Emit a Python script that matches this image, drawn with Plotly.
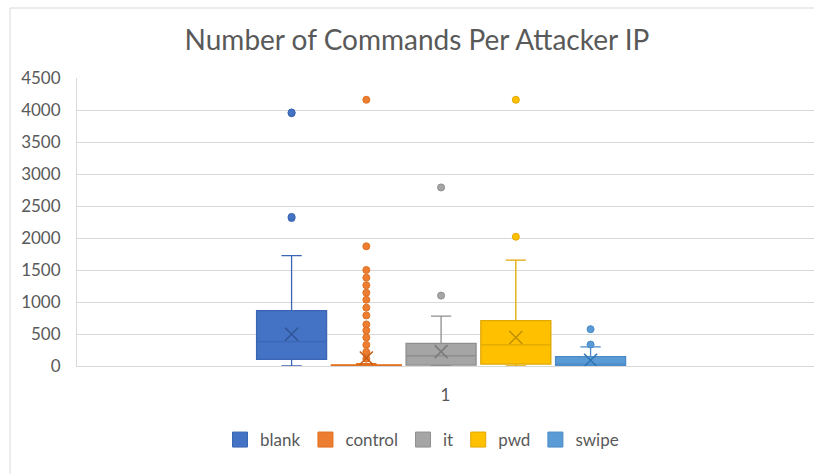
import plotly.graph_objects as go

# ---- data ----
series = ["blank", "control", "it", "pwd", "swipe"]
q1 = [105, 0, 15, 30, 0]
median = [380, 3, 160, 330, 30]
q3 = [865, 18, 355, 710, 148]
lowerfence = [0, 0, 0, 0, 0]
upperfence = [1725, 35, 780, 1655, 300]
means = [495, 125, 225, 445, 90]

blank_outliers = [3950, 3962, 2312, 2330]
control_outliers = [4160, 1870, 1500, 1380, 1262, 1145, 1035, 912, 790, 650, 555, 445, 330, 220, 115]
it_outliers = [2790, 1100]
pwd_outliers = [4160, 2020]
swipe_outliers = [575, 335]
outliers = [blank_outliers, control_outliers, it_outliers, pwd_outliers, swipe_outliers]

category_labels = ["1"]

fills = ["#4472C4", "#ED7D31", "#A5A5A5", "#FFC000", "#5B9BD5"]
lines = ["#3A66B4", "#E07020", "#8E8E8E", "#E0A800", "#4A8AC8"]
xcolors = ["#2F5597", "#C55A11", "#7B7B7B", "#BF9000", "#2E75B6"]

# layout constants
W, H = 814, 474
ML, MR, MT, MB = 77, 0, 78, 108
plot_w = W - ML - MR
plot_h = H - MT - MB
group_center = -0.006
slot = 74.75 / plot_w
box_w = 70 / plot_w

fig = go.Figure()
for i, name in enumerate(series):
    pos = group_center + (i - (len(series) - 1) / 2) * slot
    fig.add_trace(go.Box(
        name=name,
        x=[pos],
        q1=[q1[i]], median=[median[i]], q3=[q3[i]],
        lowerfence=[lowerfence[i]], upperfence=[upperfence[i]],
        width=box_w,
        whiskerwidth=0.29,
        fillcolor=fills[i],
        line=dict(color=lines[i], width=1.3),
        boxpoints=False,
        showlegend=False,
        legendgroup=name,
        hoverinfo="skip",
    ))
    fig.add_trace(go.Scatter(
        x=[pos] * len(outliers[i]), y=outliers[i],
        mode="markers",
        marker=dict(symbol="circle", size=7, color=fills[i],
                    line=dict(color=lines[i], width=1)),
        showlegend=False, legendgroup=name, hoverinfo="skip",
    ))
    fig.add_trace(go.Scatter(
        x=[pos], y=[means[i]],
        mode="markers",
        marker=dict(symbol="x-thin", size=13,
                    line=dict(color=xcolors[i], width=1.5)),
        showlegend=False, legendgroup=name, hoverinfo="skip",
    ))

# legend entries (square swatches like the original)
for i, name in enumerate(series):
    fig.add_trace(go.Scatter(
        x=[None], y=[None], name=name, mode="markers",
        marker=dict(symbol="square", size=15, color=fills[i],
                    line=dict(color=lines[i], width=1)),
        legendgroup=name, showlegend=True, hoverinfo="skip",
    ))

fig.update_layout(
    width=W, height=H,
    margin=dict(l=ML, r=MR, t=MT, b=MB),
    paper_bgcolor="white", plot_bgcolor="white",
    font=dict(family="Lato, 'Open Sans', sans-serif", color="#595959", size=16),
    title=dict(text="Number of Commands Per Attacker IP",
               font=dict(size=28, color="#595959"),
               xref="container", x=417 / W, xanchor="center",
               yref="container", y=1 - 40 / H, yanchor="middle"),
    showlegend=True,
    legend=dict(orientation="h", x=(422 - ML) / plot_w, xanchor="center",
                y=(MT + plot_h - 440) / plot_h, yanchor="middle",
                font=dict(size=17, color="#595959"), itemclick=False,
                tracegroupgap=0),
    xaxis=dict(range=[-0.5, 0.5], tickvals=[0], ticktext=category_labels,
               showgrid=False, zeroline=False, showline=True,
               linecolor="#D9D9D9", linewidth=1,
               ticks="outside", ticklen=14, tickcolor="rgba(0,0,0,0)",
               tickfont=dict(size=17, color="#595959")),
    yaxis=dict(range=[0, 4500], dtick=500, tick0=0,
               showgrid=True, gridcolor="#D9D9D9", gridwidth=1,
               zeroline=False, showline=True, linecolor="#D9D9D9",
               ticks="outside", ticklen=12, tickcolor="rgba(0,0,0,0)",
               tickfont=dict(size=17, color="#595959")),
    shapes=[dict(type="rect", xref="paper", yref="paper",
                 x0=(10 - ML) / plot_w, x1=1.2,
                 y0=-0.6, y1=(MT + plot_h - 8) / plot_h,
                 line=dict(color="#D9D9D9", width=1), layer="below")],
)

fig.write_html("out.html")
